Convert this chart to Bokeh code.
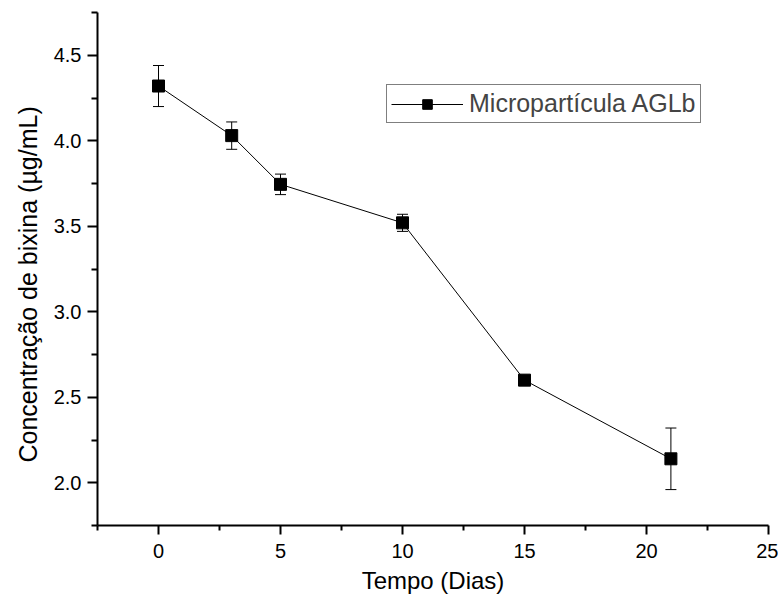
from bokeh.plotting import figure
from bokeh.models import (ColumnDataSource, Whisker, TeeHead, Range1d, FixedTicker,
                          Legend, LegendItem, CustomJSTickFormatter, Title)
from bokeh.embed import file_html
from bokeh.resources import INLINE

# Data
dias = [0, 3, 5, 10, 15, 21]
concentracao = [4.32, 4.03, 3.745, 3.52, 2.60, 2.14]
erro = [0.12, 0.08, 0.06, 0.05, 0.01, 0.18]
x_ticks = [0, 5, 10, 15, 20, 25]
y_ticks = [2.0, 2.5, 3.0, 3.5, 4.0, 4.5]
x_minor = [-2.5, 2.5, 7.5, 12.5, 17.5, 22.5]
y_minor = [1.75, 2.25, 2.75, 3.25, 3.75, 4.25, 4.75]
y_title = "Concentração de bixina (µg/mL)"
x_title = "Tempo (Dias)"
legend_label = "Micropartícula AGLb"

FONT = "Liberation Sans"

src = ColumnDataSource(dict(
    x=dias, y=concentracao,
    upper=[v + e for v, e in zip(concentracao, erro)],
    lower=[v - e for v, e in zip(concentracao, erro)],
))

p = figure(width=778, height=600, output_backend="svg", toolbar_location=None,
           x_range=Range1d(-2.5, 25), y_range=Range1d(1.75, 4.75),
           min_border_left=97, min_border_right=10, min_border_top=12, min_border_bottom=75)
p.outline_line_color = None
p.xgrid.visible = False
p.ygrid.visible = False

w = Whisker(source=src, base="x", upper="upper", lower="lower",
            line_color="black", line_width=1,
            upper_head=TeeHead(size=11, line_color="black", line_width=1),
            lower_head=TeeHead(size=11, line_color="black", line_width=1))
w.level = "underlay"
p.add_layout(w)

ln = p.line("x", "y", source=src, line_color="black", line_width=1)
sc = p.scatter("x", "y", source=src, marker="square", size=12,
               fill_color="black", line_color="black")

legend = Legend(items=[LegendItem(label=legend_label, renderers=[ln, sc])],
                location=(289, 402))
legend.label_text_font = FONT
legend.label_text_font_size = "25px"
legend.border_line_color = "black"
legend.border_line_width = 1
legend.padding = 4
legend.glyph_width = 72
legend.glyph_height = 24
legend.label_height = 24
legend.label_standoff = 6
legend.margin = 0
p.add_layout(legend)

for ax in (p.xaxis[0], p.yaxis[0]):
    ax.axis_line_width = 2
    ax.major_tick_line_width = 2
    ax.minor_tick_line_width = 2
    ax.major_tick_in = 0
    ax.minor_tick_in = 0
    ax.major_label_text_font = FONT
    ax.major_label_text_font_size = "20px"
    ax.major_label_text_color = "black"
    ax.axis_label_text_font = FONT
    ax.axis_label_text_font_style = "normal"
    ax.axis_label_text_color = "black"

p.xaxis.ticker = FixedTicker(ticks=x_ticks, minor_ticks=x_minor)
p.yaxis.ticker = FixedTicker(ticks=y_ticks, minor_ticks=y_minor)
p.yaxis.formatter = CustomJSTickFormatter(code="return tick.toFixed(1);")

p.xaxis.major_tick_out = 9
p.xaxis.minor_tick_out = 5
p.yaxis.major_tick_out = 10
p.yaxis.minor_tick_out = 6
p.xaxis.major_label_standoff = 9
p.yaxis.major_label_standoff = 6

p.xaxis.axis_label = x_title
p.xaxis.axis_label_text_font_size = "24px"
p.xaxis.axis_label_standoff = 6

# y-axis title as a side title, starting a bit above the frame bottom like in the reference
ytitle = Title(text=y_title, align="left", offset=63, standoff=18,
               text_font=FONT, text_font_size="25px", text_font_style="normal",
               text_color="black")
p.add_layout(ytitle, "left")

open("out.html", "w").write(file_html(p, INLINE))
